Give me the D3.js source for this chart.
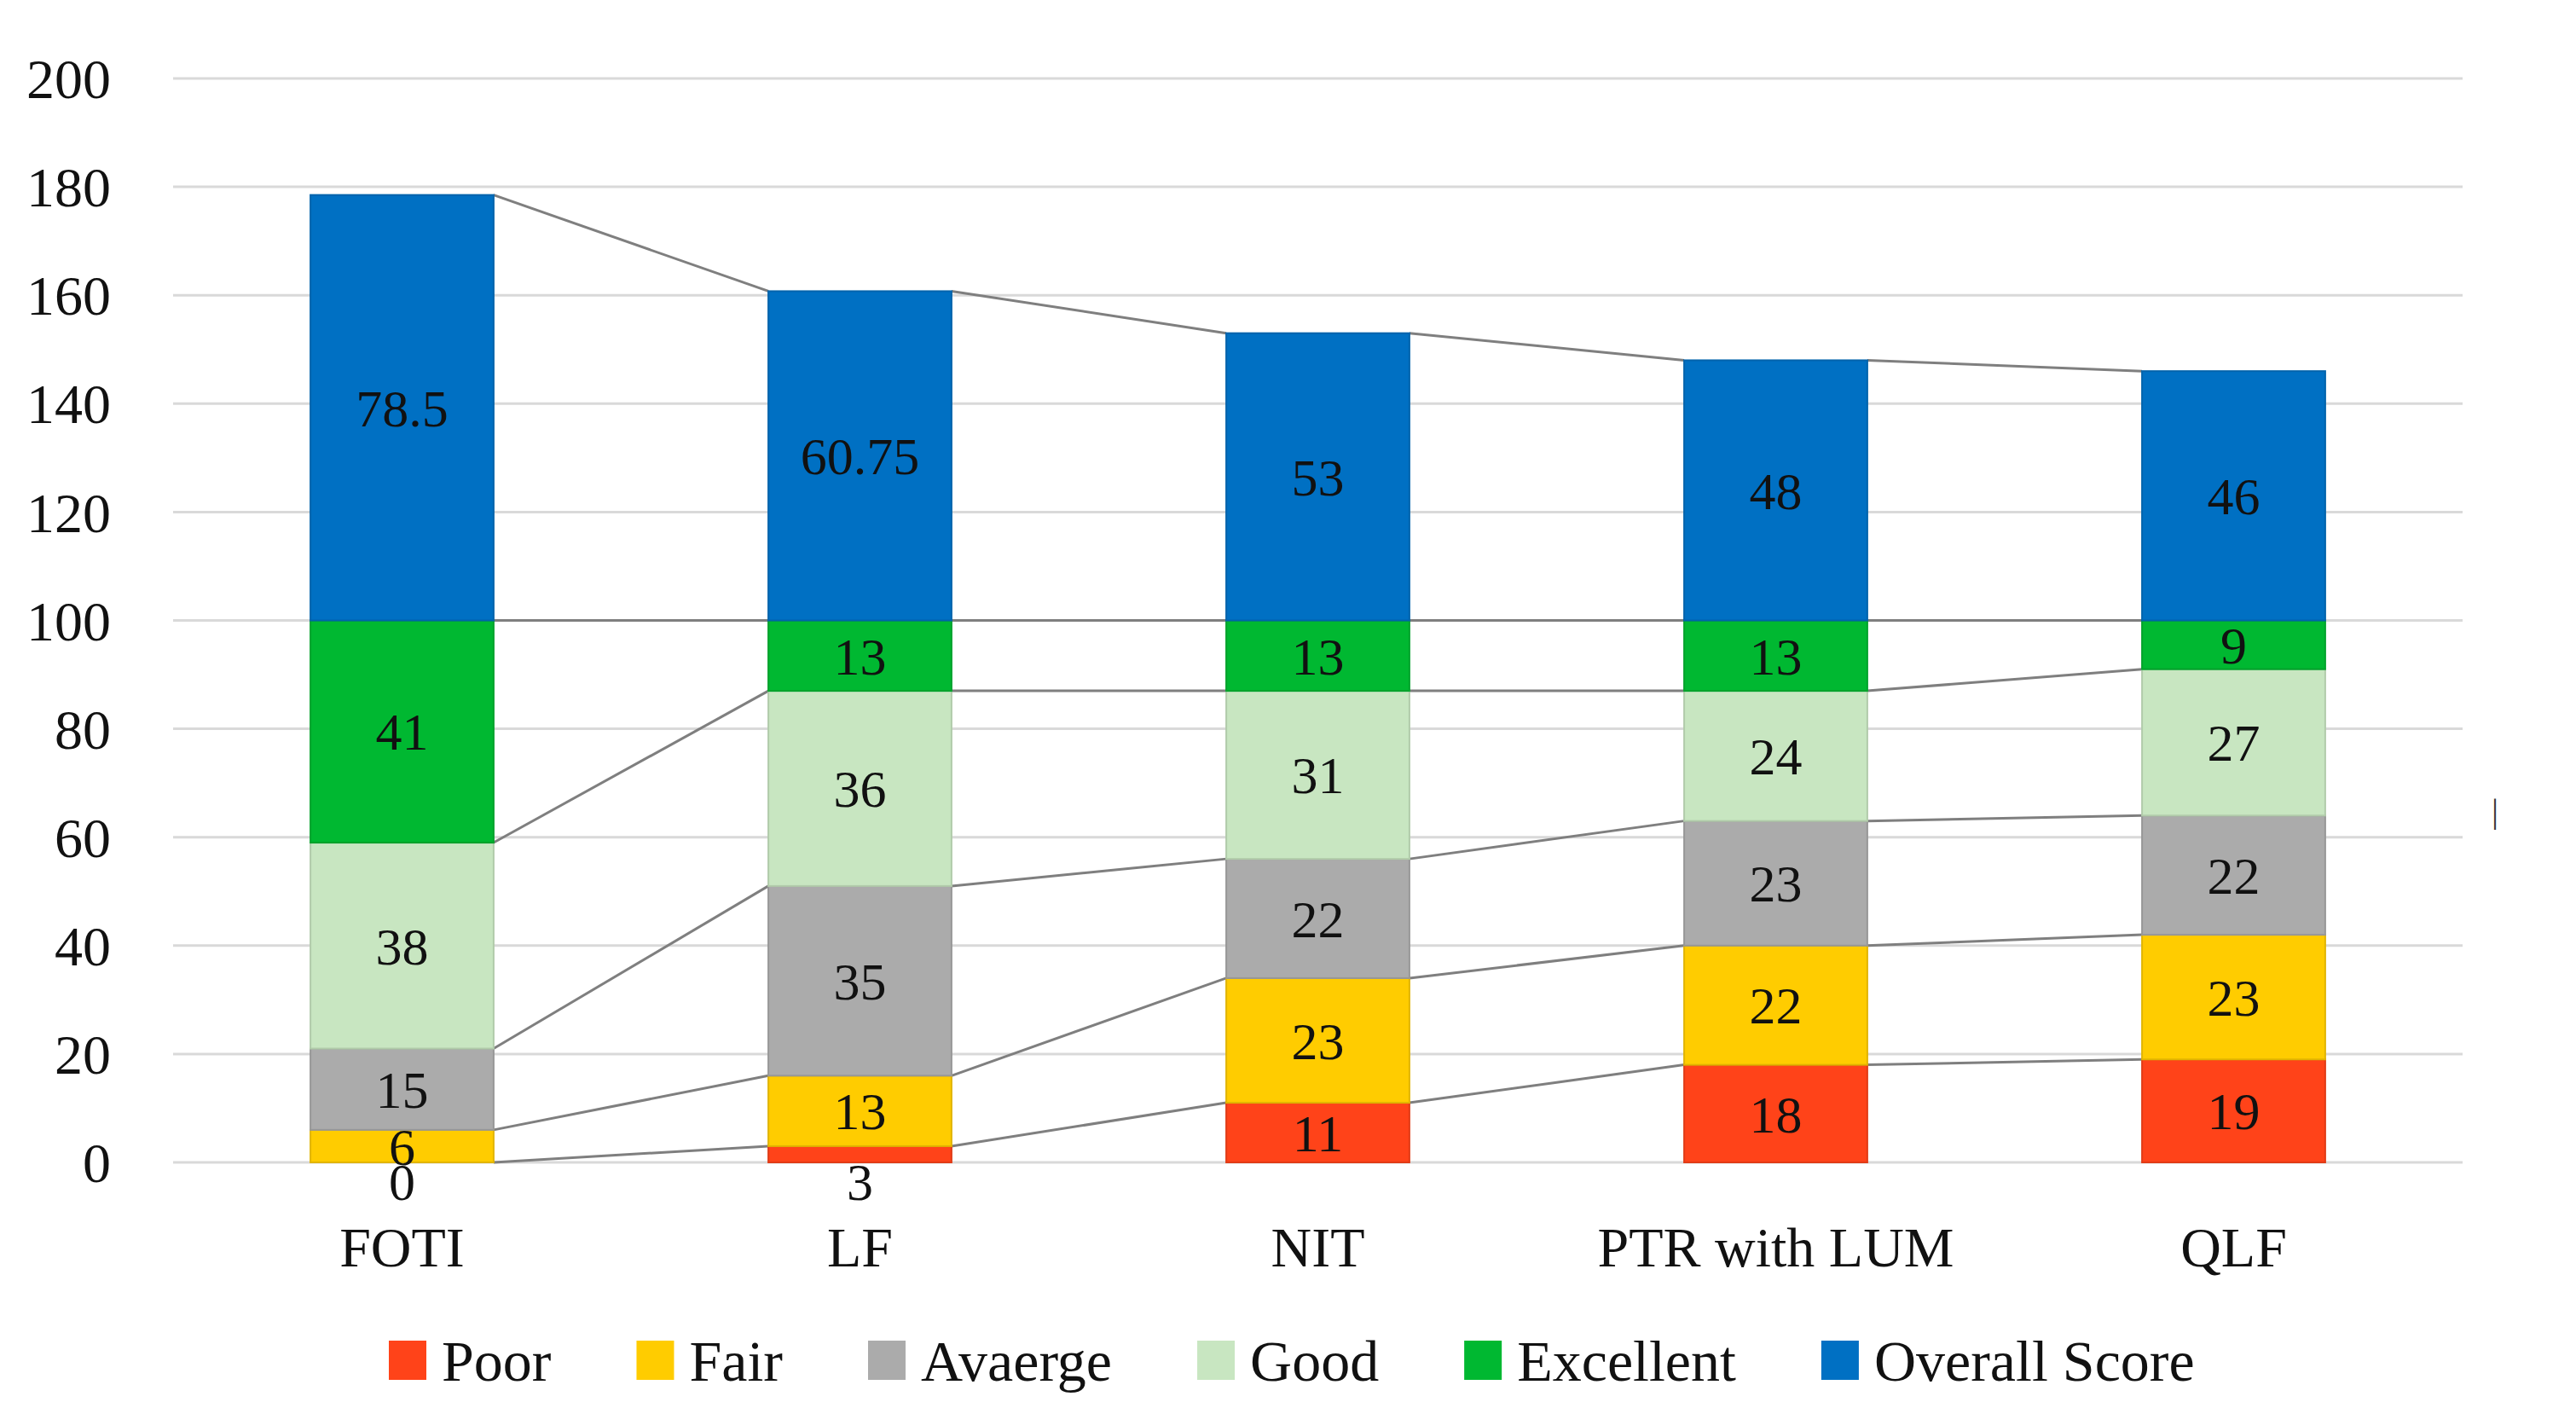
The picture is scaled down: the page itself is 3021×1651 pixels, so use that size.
<!DOCTYPE html>
<html>
<head>
<meta charset="utf-8">
<script src="https://cdn.jsdelivr.net/npm/d3@7"></script>
<style>
  html, body { margin: 0; padding: 0; background: #fff; }
  svg text { font-family: "Liberation Serif", "Times New Roman", serif; fill: #111; }
</style>
</head>
<body>
<div id="chart"></div>
<script>
// categories and series values
const categories = ["FOTI", "LF", "NIT", "PTR with LUM", "QLF"];
const seriesNames = ["Poor", "Fair", "Avaerge", "Good", "Excellent", "Overall Score"];
const poor      = [0, 3, 11, 18, 19];
const fair      = [6, 13, 23, 22, 23];
const average   = [15, 35, 22, 23, 22];
const good      = [38, 36, 31, 24, 27];
const excellent = [41, 13, 13, 13, 9];
const overall   = [78.5, 60.75, 53, 48, 46];
const yTicks = [0, 20, 40, 60, 80, 100, 120, 140, 160, 180, 200];

const colors = ["#FF4319", "#FFCC00", "#ABABAB", "#C8E6C1", "#00B831", "#0070C3"];

const width = 3021, height = 1651;

// table for the stack
const seriesValues = [poor, fair, average, good, excellent, overall];
const rows = categories.map((c, i) => {
  const r = { cat: c };
  seriesNames.forEach((s, j) => r[s] = seriesValues[j][i]);
  return r;
});

const stack = d3.stack().keys(seriesNames)(rows);

const svg = d3.select("#chart").append("svg")
  .attr("width", width)
  .attr("height", height);

const x = d3.scaleBand()
  .domain(categories)
  .range([203, 2888])
  .paddingInner(0.6)
  .paddingOuter(0.3);

const y = d3.scaleLinear()
  .domain([0, 200])
  .range([1363, 92]);

// gridlines
svg.append("g")
  .selectAll("line")
  .data(yTicks)
  .enter().append("line")
  .attr("x1", 203)
  .attr("x2", 2888)
  .attr("y1", d => y(d))
  .attr("y2", d => y(d))
  .attr("stroke", "#D9D9D9")
  .attr("stroke-width", 3);

// y axis labels
svg.append("g")
  .selectAll("text")
  .data(yTicks)
  .enter().append("text")
  .attr("x", 130)
  .attr("y", d => y(d))
  .attr("dy", "0.35em")
  .attr("text-anchor", "end")
  .attr("font-size", 66)
  .text(d => d);

// series lines between adjacent bars
const seriesLines = [];
stack.forEach(layer => {
  for (let i = 0; i < layer.length - 1; i++) {
    seriesLines.push({
      x1: x(categories[i]) + x.bandwidth(),
      y1: y(layer[i][1]),
      x2: x(categories[i + 1]),
      y2: y(layer[i + 1][1])
    });
  }
});

svg.append("g")
  .selectAll("line")
  .data(seriesLines)
  .enter().append("line")
  .attr("x1", d => d.x1)
  .attr("y1", d => d.y1)
  .attr("x2", d => d.x2)
  .attr("y2", d => d.y2)
  .attr("stroke", "#7F7F7F")
  .attr("stroke-width", 3);

// stacked bars
const layers = svg.append("g")
  .selectAll("g")
  .data(stack)
  .enter().append("g")
  .attr("fill", (d, i) => colors[i])
  .attr("stroke", (d, i) => d3.color(colors[i]).darker(0.35))
  .attr("stroke-width", 2);

layers.selectAll("rect")
  .data(d => d)
  .enter().append("rect")
  .attr("x", d => x(d.data.cat))
  .attr("y", d => y(d[1]))
  .attr("width", x.bandwidth())
  .attr("height", d => y(d[0]) - y(d[1]));

// value labels (tiny segments get their label under the axis)
const labels = svg.append("g");
stack.forEach(layer => {
  labels.selectAll(null)
    .data(layer)
    .enter().append("text")
    .attr("x", d => x(d.data.cat) + x.bandwidth() / 2)
    .attr("y", d => (d[1] - d[0]) < 5 ? y(0) + 22 : y((d[0] + d[1]) / 2))
    .attr("dy", "0.35em")
    .attr("text-anchor", "middle")
    .attr("font-size", 62)
    .text(d => d.data[layer.key]);
});

// category labels
svg.append("g")
  .selectAll("text")
  .data(categories)
  .enter().append("text")
  .attr("x", d => x(d) + x.bandwidth() / 2)
  .attr("y", 1462)
  .attr("dy", "0.35em")
  .attr("text-anchor", "middle")
  .attr("font-size", 66)
  .text(d => d);

// stray mark at the right edge
svg.append("text")
  .attr("x", 2926)
  .attr("y", 950)
  .attr("dy", "0.35em")
  .attr("text-anchor", "middle")
  .attr("font-size", 40)
  .style("fill", "#333")
  .text("|");

// legend
const legend = svg.append("g");
let lx = 456;
seriesNames.forEach((name, i) => {
  legend.append("rect")
    .attr("x", lx)
    .attr("y", 1572)
    .attr("width", 44)
    .attr("height", 46)
    .attr("fill", colors[i]);
  const t = legend.append("text")
    .attr("x", lx + 62)
    .attr("y", 1595)
    .attr("dy", "0.35em")
    .attr("font-size", 68)
    .text(name);
  lx += 62 + t.node().getComputedTextLength() + 100;
});
</script>
</body>
</html>
